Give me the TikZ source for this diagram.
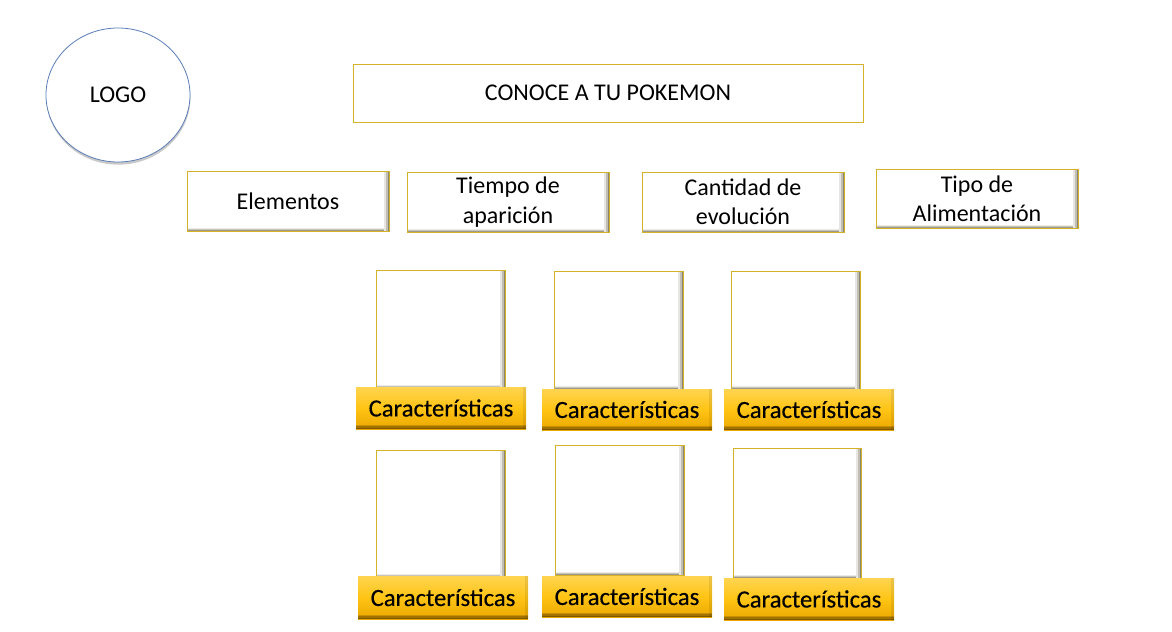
\documentclass[tikz,border=0pt]{standalone}
\usepackage{fontspec}
\setmainfont{Carlito}
\newfontfamily\labelfont[FakeBold=0.35]{Carlito}
\usetikzlibrary{shapes.geometric,shadows}
\definecolor{goldline}{RGB}{212,178,40}
\definecolor{logoblue}{RGB}{90,125,185}
\definecolor{ytop}{RGB}{255,212,80}
\definecolor{ymid}{RGB}{255,196,20}
\definecolor{ybot}{RGB}{235,168,0}
\definecolor{ydark}{RGB}{90,60,0}
\definecolor{bevdark}{RGB}{60,50,20}
\tikzset{
  sz/.style 2 args={minimum width=#1*0.75pt, minimum height=#2*0.75pt},
  txt/.style={font=\fontsize{18}{22}\selectfont, align=center, text=black},
  bevel/.style={path picture={
    \fill[bevdark, opacity=0.12] ([xshift=-3.4pt]path picture bounding box.north east) rectangle (path picture bounding box.south east);
    \fill[bevdark, opacity=0.22] ([xshift=-2.2pt]path picture bounding box.north east) rectangle (path picture bounding box.south east);
    \fill[bevdark, opacity=0.40] ([xshift=-1.1pt]path picture bounding box.north east) rectangle (path picture bounding box.south east);
    \fill[bevdark, opacity=0.10] ([yshift=2.6pt]path picture bounding box.south west) rectangle ([xshift=-3.4pt]path picture bounding box.south east);
    \fill[bevdark, opacity=0.20] ([yshift=1.6pt]path picture bounding box.south west) rectangle ([xshift=-3.4pt]path picture bounding box.south east);
    \fill[bevdark, opacity=0.30] ([yshift=0.8pt]path picture bounding box.south west) rectangle ([xshift=-3.4pt]path picture bounding box.south east);
  }},
  button/.style={rectangle, inner sep=0pt, fill=white, draw=goldline, line width=0.6pt, bevel, txt},
  titlebox/.style={rectangle, inner sep=0pt, fill=white, draw=goldline, line width=0.6pt, txt},
  card/.style={rectangle, inner sep=0pt, fill=white, draw=goldline, line width=0.6pt, bevel},
  ylabel/.style={rectangle, inner sep=0pt, top color=ytop, bottom color=ybot, middle color=ymid, draw=none, txt,
    font=\labelfont\fontsize{18.5}{22}\selectfont,
    path picture={
      \fill[ydark, opacity=0.25] ([yshift=3.2pt]path picture bounding box.south west) rectangle (path picture bounding box.south east);
      \fill[ydark, opacity=0.35] ([yshift=2.1pt]path picture bounding box.south west) rectangle (path picture bounding box.south east);
      \fill[ydark, opacity=0.45] ([yshift=1pt]path picture bounding box.south west) rectangle (path picture bounding box.south east);
      \fill[black, opacity=0.08] ([xshift=-2pt]path picture bounding box.north east) rectangle (path picture bounding box.south east);
    }},
  logo/.style={ellipse, inner sep=0pt, fill=white, draw=logoblue, line width=0.6pt, txt,
    drop shadow={shadow xshift=0.3pt, shadow yshift=-2pt, opacity=0.35, fill=black!60}},
}
\begin{document}
\begin{tikzpicture}[x=0.75pt, y=-0.75pt]
\useasboundingbox[fill=white] (0,0) rectangle (1172,632);

\node[logo, sz={144}{134}] (logo) at (118,95) {LOGO};
\node[titlebox, sz={510}{58}] (title) at (608,93) {CONOCE A TU POKEMON};

\node[button, sz={202}{60}] (b1) at (288,201) {Elementos};
\node[button, sz={202}{60}] (b2) at (508,202) {Tiempo de\\aparición};
\node[button, sz={202}{60}] (b3) at (743,202) {Cantidad de\\evolución};
\node[button, sz={202}{59}] (b4) at (977,198.5) {Tipo de\\Alimentación};

\node[card, sz={129}{118}] (c1) at (440.5,329) {};
\node[card, sz={129}{118}] (c2) at (618.5,330) {};
\node[card, sz={129}{118}] (c3) at (795.5,330) {};
\node[card, sz={129}{127}] (c4) at (440.5,513.5) {};
\node[card, sz={129}{130}] (c5) at (619.5,510) {};
\node[card, sz={128}{130}] (c6) at (797,513) {};

\node[ylabel, sz={170}{42}] (l1) at (441,408) {Características};
\node[ylabel, sz={170}{41}] (l2) at (627,409.5) {Características};
\node[ylabel, sz={170}{41}] (l3) at (809,409.5) {Características};
\node[ylabel, sz={170}{43}] (l4) at (443,597.5) {Características};
\node[ylabel, sz={170}{41}] (l5) at (627,596.5) {Características};
\node[ylabel, sz={170}{42}] (l6) at (809,599) {Características};
\end{tikzpicture}
\end{document}
